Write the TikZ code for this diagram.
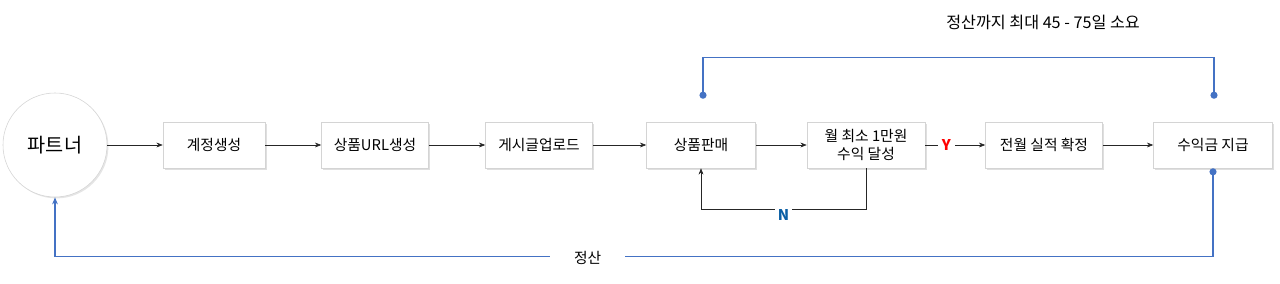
\documentclass[tikz,border=0pt]{standalone}
\usepackage{fontspec}
\setmainfont{Noto Sans CJK KR}
\usepackage{tikz}
\usetikzlibrary{arrows.meta,calc,positioning,shadows}
\usepackage{xcolor}
\definecolor{flowblue}{HTML}{4472C4}
\definecolor{nblue}{HTML}{0B5FA5}
\definecolor{yred}{HTML}{FF0000}
\definecolor{boxline}{HTML}{D4D4D4}
\definecolor{arrowgray}{HTML}{262626}

\begin{document}
\begin{tikzpicture}[>=Stealth,x=0.025cm,y=-0.025cm,
    box/.style={draw=boxline,fill=white,minimum height=1.15cm,font=\fontsize{10.5}{13}\selectfont,
      align=center,drop shadow={shadow xshift=1.2pt,shadow yshift=-1.2pt,fill=black!25}},
    flow/.style={->,arrowgray,thin,>={Stealth[length=4.5pt,width=3.5pt]}},
    loopline/.style={flowblue,line width=1.1pt},
    txt/.style={font=\fontsize{10.5}{13}\selectfont}]
  \useasboundingbox (0,0) rectangle (1280,283);
  % nodes
  \node[circle,draw=boxline,fill=white,minimum size=2.6cm,font=\fontsize{14}{16}\selectfont,
    drop shadow={shadow xshift=1pt,shadow yshift=-1pt,fill=black!20}] (partner) at (55,145) {파트너};
  \node[box,minimum width=2.55cm] (account) at (214,145) {계정생성};
  \node[box,minimum width=2.675cm] (url) at (375,145) {상품URL생성};
  \node[box,minimum width=2.675cm] (upload) at (539,145) {게시글업로드};
  \node[box,minimum width=2.725cm] (sale) at (701,145) {상품판매};
  \node[box,minimum width=2.95cm,inner sep=1pt] (goal) at (866,145) {월 최소 1만원\\수익 달성};
  \node[box,minimum width=2.925cm] (confirm) at (1044,145) {전월 실적 확정};
  \node[box,minimum width=2.975cm] (payout) at (1213,145) {수익금 지급};
  \node[font=\fontsize{11.5}{14}\selectfont] (period) at (1043,22) {정산까지 최대 45 - 75일 소요};
  % main flow
  \draw[flow] (partner) -- (account);
  \draw[flow] (account) -- (url);
  \draw[flow] (url) -- (upload);
  \draw[flow] (upload) -- (sale);
  \draw[flow] (sale) -- (goal);
  \draw[flow] (goal) -- node[pos=0.35,fill=white,inner xsep=3pt,text=yred,font=\bfseries\fontsize{10.5}{12}\selectfont] {Y} (confirm);
  \draw[flow] (confirm) -- (payout);
  % no -> back to sale
  \draw[flow] (goal.south) -- ++(0,41) -| node[pos=0.25,fill=white,inner xsep=2pt,yshift=-0.15cm,text=nblue,
    font=\bfseries\fontsize{10.5}{12}\selectfont] {N} (sale.south);
  % settlement period
  \coordinate (saletop) at ($(sale.north)+(2,-23)$);
  \coordinate (paytop) at ($(payout.north)+(1,-23)$);
  \draw[loopline,{Circle[length=5pt]}-{Circle[length=5pt]}] (saletop) -- ++(0,-41) -| (paytop);
  % payment back to partner
  \draw[loopline,{Circle[length=5pt]}->,>={Stealth[length=5pt,width=4pt]}] (payout.south) -- ++(0,88) -|
    node[pos=0.27,fill=white,inner xsep=0.6cm,yshift=-0.05cm,text=black,txt] {정산} (partner.south);
\end{tikzpicture}
\end{document}
